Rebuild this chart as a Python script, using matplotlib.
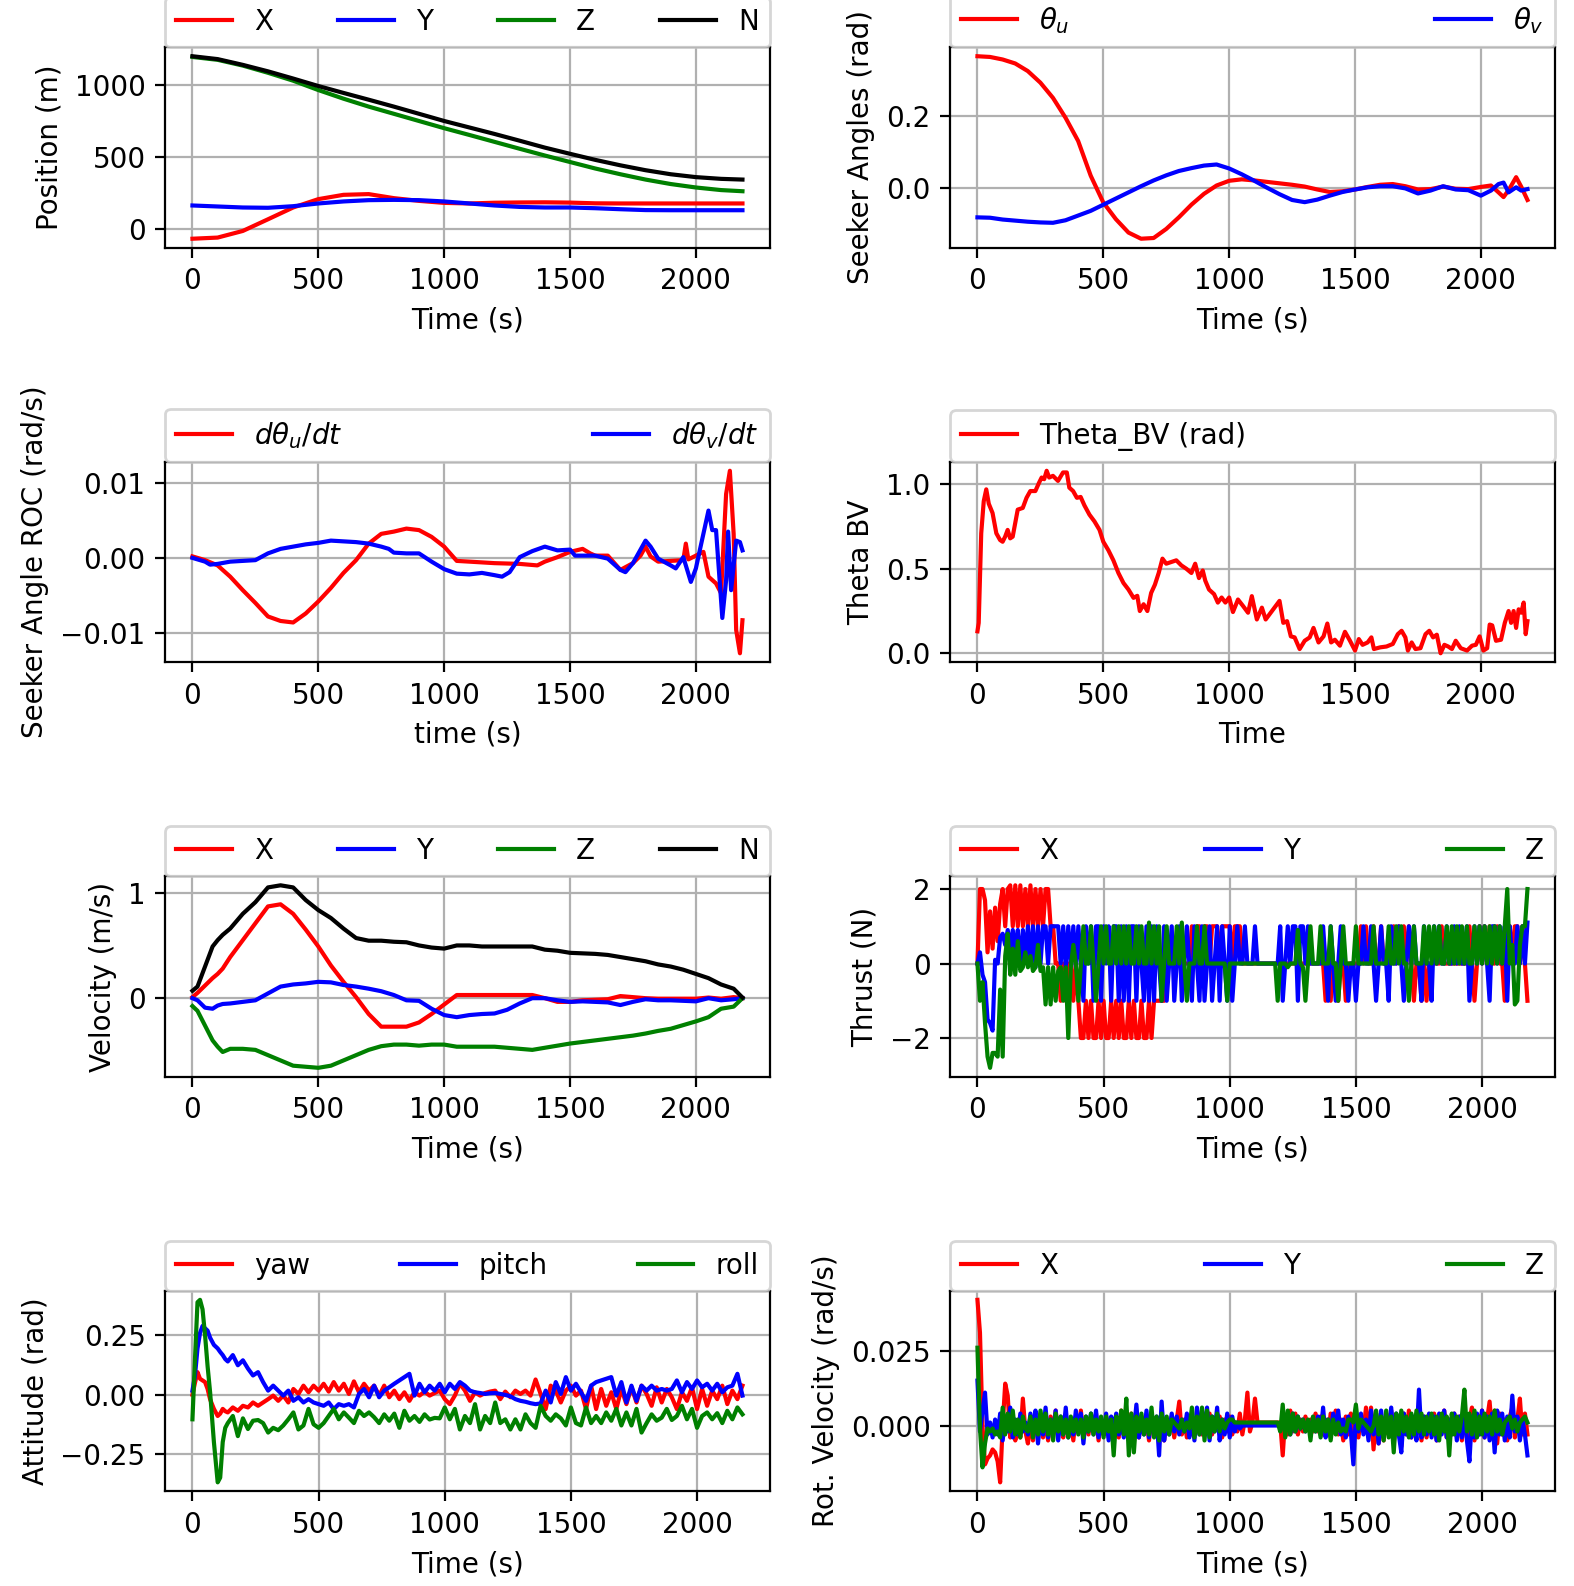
import numpy as np
import matplotlib.pyplot as plt

# ---- position (m) ----
t_pos = [0, 100, 200, 300, 400, 500, 600, 700, 800, 900, 1000, 1100, 1200,
         1300, 1400, 1500, 1600, 1700, 1800, 1900, 2000, 2100, 2185]
pos_x = [-68, -60, -14, 67, 149, 207, 237, 242, 214, 195, 181, 177, 182,
         184, 185, 183, 178, 177, 177, 177, 177, 177, 177]
pos_y = [163, 156, 149, 147, 158, 177, 191, 200, 202, 200, 191, 177, 163,
         153, 149, 149, 144, 137, 131, 130, 130, 130, 130]
pos_z = [1195, 1175, 1135, 1085, 1030, 965, 905, 850, 800, 750, 700, 653, 605,
         557, 510, 465, 420, 380, 343, 312, 288, 270, 262]
pos_n = [1200, 1180, 1140, 1095, 1045, 993, 945, 898, 850, 800, 750, 705, 660,
         613, 565, 522, 480, 442, 408, 380, 360, 348, 343]

# ---- seeker angles (rad) ----
t_seek = np.r_[np.arange(0, 2001, 50), [2040, 2070, 2090, 2110, 2140, 2160, 2185]]
theta_u = [0.365, 0.363, 0.356, 0.345, 0.324, 0.292, 0.25, 0.195, 0.131, 0.035,
           -0.039, -0.085, -0.122, -0.139, -0.137, -0.112, -0.08, -0.045, -0.015, 0.008,
           0.021, 0.025, 0.022, 0.018, 0.014, 0.01, 0.005, -0.003, -0.01, -0.008,
           -0.003, 0.004, 0.01, 0.012, 0.006, -0.003, -0.002, 0.005, -0.001, -0.002,
           0.004, 0.008, -0.011, -0.024, -0.005, 0.031, 0.005, -0.032]
theta_v = [-0.08, -0.081, -0.086, -0.089, -0.092, -0.094, -0.095, -0.088, -0.075, -0.062,
           -0.045, -0.028, -0.011, 0.006, 0.022, 0.036, 0.048, 0.056, 0.063, 0.066,
           0.055, 0.039, 0.021, 0.002, -0.016, -0.032, -0.038, -0.031, -0.02, -0.01,
           -0.003, 0.003, 0.006, 0.006, 0.0, -0.014, -0.006, 0.006, -0.003, -0.005,
           -0.02, -0.006, 0.012, 0.016, -0.011, 0.003, -0.006, -0.002]

# ---- seeker angle rate of change (1e-3 rad/s) ----
t_roc_u = [0, 50, 100, 150, 200, 250, 300, 350, 400, 450, 500, 550, 600, 650, 700,
           750, 800, 850, 900, 950, 1000, 1050, 1100, 1200, 1300, 1370, 1400, 1450,
           1500, 1550, 1580, 1600, 1650, 1700, 1750, 1780, 1800, 1820, 1850, 1900,
           1950, 1960, 1970, 2000, 2030, 2050, 2080, 2100, 2120, 2135, 2150, 2160,
           2175, 2185]
roc_u = [0.2, -0.3, -1.0, -2.5, -4.3, -6.0, -7.8, -8.4, -8.6, -7.4,
         -5.8, -4.0, -2.0, -0.3, 1.9, 3.2, 3.5, 3.9, 3.7, 2.8,
         1.5, -0.4, -0.5, -0.7, -0.8, -1.0, -0.5, 0.1, 0.8, 1.2,
         0.6, 0.3, 0.3, -1.6, -0.7, 0.3, 1.5, 0.2, -0.5, -0.4,
         -0.3, 1.9, -0.2, 0.3, 0.8, -2.5, -3.4, -4.7, 8.5, 11.6,
         3.2, -9.6, -12.7, -8.3]
t_roc_v = [0, 50, 70, 100, 150, 200, 250, 300, 350, 400, 450, 500, 550, 600, 650,
           700, 750, 780, 800, 850, 900, 950, 1000, 1050, 1100, 1150, 1200, 1230,
           1260, 1300, 1350, 1400, 1430, 1450, 1500, 1520, 1600, 1650, 1700, 1720,
           1750, 1800, 1820, 1850, 1900, 1920, 1950, 1980, 2000, 2020, 2050, 2065,
           2080, 2105, 2120, 2128, 2140, 2160, 2175, 2185]
roc_v = [0, -0.5, -0.9, -0.8, -0.5, -0.4, -0.3, 0.6, 1.2, 1.5,
         1.8, 2.0, 2.3, 2.2, 2.1, 1.9, 1.5, 1.2, 0.7, 0.6,
         0.6, -0.5, -1.5, -2.1, -2.2, -2.0, -2.3, -2.5, -1.9, 0.1,
         0.9, 1.5, 1.2, 1.0, 1.1, 0.3, 0.3, -0.1, -1.6, -1.9,
         -0.7, 2.3, 1.5, -0.1, -1.0, -1.4, 0.1, -3.2, -1.4, 1.7,
         6.3, 3.7, 3.7, -8.0, -3.0, 3.5, -4.3, 2.3, 2.1, 1.0]

# ---- theta BV (rad) ----
t_bv = [0, 5, 15, 25, 35, 45, 60, 75, 90, 100, 110, 120, 130, 140, 150, 160, 180,
        195, 210, 230, 245, 255, 265, 275, 285, 300, 320, 340, 355, 365, 380, 395,
        410, 425, 445, 465, 485, 500, 520, 540, 560, 580, 600, 620, 635, 645, 660,
        675, 690, 705, 720, 735, 750, 770, 790, 810, 830, 850, 865, 880, 895, 905,
        920, 940, 955, 970, 985, 1000, 1015, 1035, 1055, 1075, 1090, 1110, 1130,
        1145, 1200, 1215, 1230, 1245, 1260, 1280, 1300, 1320, 1335, 1355, 1375,
        1390, 1405, 1420, 1440, 1460, 1480, 1500, 1515, 1530, 1550, 1565, 1575,
        1600, 1625, 1650, 1670, 1685, 1700, 1710, 1725, 1740, 1760, 1780, 1795,
        1810, 1825, 1840, 1855, 1870, 1885, 1900, 1920, 1945, 1965, 1980, 1995,
        2010, 2025, 2035, 2045, 2060, 2080, 2095, 2110, 2120, 2130, 2140, 2150,
        2160, 2170, 2178, 2185]
theta_bv = [0.13, 0.18, 0.71, 0.90, 0.97, 0.885, 0.83, 0.71, 0.67, 0.66,
            0.69, 0.73, 0.68, 0.69, 0.77, 0.85, 0.86, 0.92, 0.96, 0.96,
            1.01, 1.04, 1.03, 1.08, 1.04, 1.05, 1.02, 1.07, 1.07, 0.98,
            0.96, 0.92, 0.925, 0.875, 0.82, 0.78, 0.73, 0.66, 0.61, 0.55,
            0.475, 0.416, 0.377, 0.328, 0.34, 0.25, 0.29, 0.25, 0.357, 0.406,
            0.475, 0.56, 0.53, 0.54, 0.55, 0.52, 0.50, 0.475, 0.53, 0.445,
            0.49, 0.43, 0.377, 0.35, 0.30, 0.33, 0.30, 0.33, 0.244, 0.318,
            0.28, 0.24, 0.338, 0.20, 0.27, 0.20, 0.31, 0.18, 0.19, 0.10,
            0.094, 0.025, 0.074, 0.094, 0.15, 0.064, 0.10, 0.176, 0.064, 0.08,
            0.045, 0.127, 0.074, 0.016, 0.084, 0.05, 0.064, 0.094, 0.025, 0.035,
            0.04, 0.055, 0.113, 0.133, 0.094, 0.016, 0.064, 0.025, 0.03, 0.113,
            0.133, 0.094, 0.11, 0.0, 0.05, 0.04, 0.025, 0.074, 0.03, 0.016,
            0.045, 0.05, 0.10, 0.016, 0.03, 0.17, 0.165, 0.074, 0.08, 0.18,
            0.25, 0.18, 0.25, 0.15, 0.26, 0.24, 0.30, 0.113, 0.19]

# ---- velocity (m/s) ----
t_vel = [0, 20, 50, 80, 100, 120, 150, 200, 250, 300, 350, 400, 450, 500, 550,
         600, 650, 700, 750, 800, 850, 900, 950, 1000, 1050, 1100, 1150, 1200,
         1250, 1300, 1350, 1400, 1450, 1500, 1550, 1600, 1650, 1700, 1750, 1800,
         1850, 1900, 1950, 2000, 2050, 2100, 2150, 2185]
vel_x = [0.01, 0.05, 0.12, 0.19, 0.23, 0.28, 0.39, 0.55, 0.71, 0.87, 0.89, 0.80,
         0.65, 0.49, 0.31, 0.155, 0.01, -0.15, -0.27, -0.27, -0.27, -0.23, -0.15,
         -0.06, 0.03, 0.03, 0.03, 0.03, 0.03, 0.03, 0.03, 0.0, -0.035, -0.035,
         -0.02, -0.015, -0.01, 0.02, 0.01, 0.0, -0.005, -0.005, -0.005, -0.005,
         0.006, -0.005, 0.01, 0.0]
vel_y = [0.0, -0.02, -0.09, -0.10, -0.07, -0.055, -0.05, -0.035, -0.02, 0.045,
         0.11, 0.13, 0.14, 0.155, 0.15, 0.125, 0.11, 0.09, 0.066, 0.03, -0.02,
         -0.025, -0.10, -0.16, -0.18, -0.16, -0.15, -0.145, -0.11, -0.05, 0.0,
         0.0, -0.02, -0.035, -0.03, -0.035, -0.04, -0.065, -0.035, -0.01, -0.02,
         -0.02, -0.025, -0.03, 0.0, -0.02, -0.01, 0.0]
vel_z = [-0.075, -0.12, -0.26, -0.40, -0.46, -0.51, -0.48, -0.48, -0.49, -0.54,
         -0.59, -0.64, -0.65, -0.66, -0.64, -0.59, -0.54, -0.49, -0.455, -0.44,
         -0.44, -0.45, -0.44, -0.44, -0.46, -0.46, -0.46, -0.46, -0.47, -0.48,
         -0.49, -0.47, -0.45, -0.43, -0.415, -0.40, -0.385, -0.37, -0.355, -0.335,
         -0.31, -0.29, -0.255, -0.22, -0.18, -0.10, -0.08, 0.0]
vel_n = [0.07, 0.11, 0.30, 0.49, 0.55, 0.60, 0.66, 0.80, 0.91, 1.05, 1.07, 1.05,
         0.93, 0.835, 0.76, 0.66, 0.57, 0.545, 0.545, 0.535, 0.53, 0.50, 0.48,
         0.47, 0.50, 0.50, 0.49, 0.49, 0.49, 0.49, 0.49, 0.46, 0.45, 0.43, 0.425,
         0.42, 0.41, 0.39, 0.37, 0.35, 0.32, 0.30, 0.27, 0.23, 0.19, 0.13, 0.09,
         0.006]

# ---- thrust (N), sampled every 10 s ----
t_thr = np.arange(0, 2181, 10)
thr_x = [0, 2, 2, 1.7, 0.3, 1.4, 0.4, 1.5, 0.6, 1.6,
         2, 1, 2, 2.1, 1, 2.1, 1, 2.1, 1, 2,
         1, 2.1, 1, 2, 1, 2, 1, 2, 2, 1,
         1, 0, 0, -1, 0, -1, 0, 0, -1, 0,
         -1, -2, -2, -1, -2, -1, -2, -2, -1, -2,
         -1, -2, -2, -1, -2, -1, -2, -1, -2, -2,
         -1, -2, -1, -2, -2, -1, -2, -2, -1, -2,
         -1, -1, -1, -1, -1, 0, 0, 0, 0, 0,
         0, 0, 0, 0, 0, 1, 0, 1, 1, 0,
         1, 1, 0, 1, 1, 1, 0, 1, 1, 1,
         1, 0, 1, 1, 1, 0, 0, 0, 0, 0,
         0, 0, 0, 0, 0, 0, 0, 0, 0, 0,
         0, 0, 0, 0, 0, 0, 0, 0, 0, 0,
         0, 0, 0, 0, 0, 0, 0, 0, -1, 0,
         -1, 0, 0, -1, 0, 0, -1, 0, 0, 0,
         0, 0, 1, 0, 1, 0, 0, 1, 0, 0,
         1, 0, 0, 0, 0, 1, 0, 1, 0, 1,
         0, 1, 0, -1, 0, 0, -1, 0, -1, 0,
         0, 0, 0, 0, 1, 0, 0, 0, 0, 0,
         0, 0, 0, 0, 0, 1, 0, -1, 0, 1,
         0, 1, 0, 1, 0, 0, 1, 0, 0, -1,
         0, 1, 0, 1, 1, 0, 1, 0, -1]
thr_y = [0, 0.3, -0.3, -0.5, -1.5, -1.6, -1.8, 0.1, 0, 0.7,
         0.8, 0.5, 0.9, 0.4, 0.9, 0.3, 0.9, -0.1, 0.9, 0.2,
         1, 0, 1, -0.1, 1, 0, 1, 1, 0, 1,
         1, 1, 1, 0, 1, -0.1, 1, 0, 1, -0.1,
         1, 0, -1, 1, 0, 1, -1, 1, 1, -1,
         1, 0, 1, -1, 1, 1, -1, 1, -1, 1,
         -1, 1, 1, -1, 1, 0, -1, 1, -1, 1,
         -1, 1, 0, -1, 1, -1, 0, 1, -1, 0,
         1, -1, 0, 1, 0, -1, 1, 0, -1, 1,
         -1, 0, 1, -1, 0, 1, -1, 1, 0, -1,
         1, -1, 0, 1, 0, 0, 1, 0, 0, 0,
         1, 0, 0, 0, 0, 0, 0, 0, 0, 0,
         1, -1, 0, 1, 0, 1, 1, -1, 1, 1,
         0, 1, 0, 0, 0, 0, 0, 1, 0, -1,
         1, 0, -1, 0, 1, 0, 0, -1, 0, 0,
         -1, 0, 0, 1, 0, 0, 1, 0, -1, 0,
         1, 0, 0, -1, 1, 0, 0, 1, 0, -1,
         0, 1, 0, 1, 0, 0, -1, 1, 0, 0,
         -1, 1, 0, 1, 0, 0, 1, 0, 0, 1,
         0, 1, 0, 0, 1, -1, 0, 1, 0, 1,
         0, 1, 0, -1, 1, 1, 0, 1, 0, 1,
         -1, 1, 0, 0, 1, 0, 1, 0, 1.1]
thr_z = [0, -1, -0.5, -1.6, -2.5, -2.8, -2.4, -2.4, -2.5, -0.7,
         -2.5, 0.2, 0.8, -0.3, 0.4, -0.3, 0.6, -0.2, -0.1, 0.3,
         -0.1, 0.2, -0.2, -0.1, 0.5, -0.2, -0.1, -1.1, -0.1, -1.1,
         -0.1, -1, -0.2, -0.1, -1, -0.1, -2, -0.1, 0.5, 0,
         -1, 0, 1, 0, 0, 1, 0, -1, 0, 1,
         0, 1, 0, 0, 1, 0, 1, 0, 1, 0,
         1, 0, 0, 1, 0, 1, 0, 0, 1.1, 0,
         1, 0, 1, -1, 0, 1, 0, 0, 0, 1,
         0, 1.1, 0, -1, 0, 0, 0, 1, 0, 0,
         1, 0, 0, 0, 0, 0, 0, 0, 0, -1,
         0, 0, 0, 0, 0, 0, 0, 0, 0, 0,
         0, 0, 0, 0, 0, 0, 0, 0, 0, -1,
         0, 0, 0, -0.1, 0, 0, 0, 0.9, 0, -0.1,
         -1, 0, 1, 0, 0, 0, 1, 0, 0, 0,
         1, 0, 0, -1, 0, 1, 0, 0, 0, 0,
         1, 0, 0, 0, 0, 0, 0, 1, 0, 0,
         0, 0, 0, 1, 0, 0, 1, 0, 1, 0,
         0, -1, 0, 1, 0, 0, 0, 1, 0, 1,
         0, 1, 0, 1, 0, 0, 1, 0, 1, 0,
         1, 0, 1, 0, 1, 0, 0, 1, 0, 1,
         0, 1, 0, 1, 0, 1, 0, 1, 0, 1,
         2, 0, 0.5, -1.1, -1, 0.5, 1, 1, 2]

# ---- attitude (rad) ----
t_att = np.r_[[0, 10, 20, 30, 40, 50, 60, 70, 85, 100, 110, 120, 130, 140],
              np.arange(160, 2181, 20)]
yaw = [0.0, 0.05, 0.095, 0.067, 0.06, 0.053, 0.024, -0.02, -0.06, -0.09, -0.08, -0.06, -0.07, -0.075,
       -0.054, -0.068, -0.047, -0.054, -0.033, -0.047, -0.033, -0.019, -0.004, -0.026,
       -0.004, -0.033, 0.024, 0.003, 0.038, 0.01, 0.038, 0.017, 0.046, 0.013,
       0.053, 0.017, 0.046, 0.003, 0.056, 0.01, 0.046, 0.017, 0.038, -0.004,
       0.038, -0.011, 0.017, -0.019, 0.01, -0.026, 0.01, -0.004, 0.013, -0.004,
       0.007, 0.017, -0.019, -0.04, -0.004, 0.046, 0.017, -0.026, 0.01, -0.004,
       0.007, 0.013, 0.017, -0.019, 0.013, -0.011, 0.017, 0.003, 0.017, -0.004,
       0.064, 0.003, -0.061, 0.038, 0.017, -0.033, 0.017, 0.038, -0.004, 0.017,
       -0.061, 0.038, -0.061, 0.024, -0.047, 0.01, -0.061, 0.024, -0.04, 0.031,
       -0.033, 0.038, 0.003, -0.047, 0.031, -0.033, 0.024, -0.011, -0.061, 0.01,
       -0.026, 0.031, -0.061, 0.024, -0.047, 0.017, -0.019, 0.038, -0.04, 0.017,
       -0.019, 0.038]
pitch = [0.017, 0.08, 0.195, 0.26, 0.29, 0.28, 0.27, 0.24, 0.21, 0.195, 0.18, 0.167, 0.15, 0.14,
         0.167, 0.124, 0.145, 0.11, 0.081, 0.095, 0.053, 0.017, 0.038, 0.017,
         -0.004, 0.017, -0.026, -0.011, -0.033, -0.019, -0.033, -0.04, -0.047, -0.033,
         -0.061, -0.04, -0.047, -0.04, -0.054, 0.003, 0.024, -0.011, 0.038, -0.011,
         0.017, 0.031, 0.046, 0.06, 0.074, 0.088, -0.004, 0.046, 0.01, 0.038,
         0.017, 0.046, 0.01, 0.046, 0.024, 0.053, 0.038, 0.017, 0.01, 0.007,
         0.003, 0.006, 0.007, 0.003, -0.001, -0.007, -0.019, -0.026, -0.03, -0.036,
         -0.04, -0.037, 0.017, -0.033, 0.053, 0.003, 0.074, 0.017, 0.046, 0.01,
         -0.026, 0.038, 0.053, 0.06, 0.067, 0.074, -0.004, 0.053, -0.033, 0.038,
         -0.026, 0.038, 0.017, 0.038, 0.017, 0.024, 0.017, 0.024, 0.06, 0.01,
         0.053, 0.024, 0.06, 0.031, 0.046, 0.017, 0.046, 0.01, 0.031, 0.038,
         0.088, -0.004]
roll = [-0.104, 0.15, 0.39, 0.40, 0.36, 0.25, 0.12, 0.01, -0.2, -0.37, -0.35, -0.2, -0.14, -0.12,
        -0.09, -0.175, -0.10, -0.145, -0.11, -0.107, -0.12, -0.16, -0.14, -0.15,
        -0.13, -0.104, -0.075, -0.147, -0.13, -0.06, -0.125, -0.14, -0.12, -0.09,
        -0.06, -0.104, -0.075, -0.097, -0.12, -0.068, -0.09, -0.075, -0.095, -0.12,
        -0.083, -0.11, -0.08, -0.14, -0.068, -0.11, -0.09, -0.115, -0.083, -0.105,
        -0.098, -0.1, -0.054, -0.104, -0.06, -0.147, -0.09, -0.12, -0.04, -0.147,
        -0.09, -0.12, -0.033, -0.12, -0.104, -0.147, -0.104, -0.147, -0.083, -0.12,
        -0.14, -0.047, -0.09, -0.11, -0.083, -0.1, -0.13, -0.054, -0.12, -0.13,
        -0.054, -0.12, -0.09, -0.12, -0.075, -0.11, -0.06, -0.13, -0.075, -0.13,
        -0.06, -0.16, -0.12, -0.083, -0.11, -0.097, -0.06, -0.107, -0.09, -0.047,
        -0.104, -0.06, -0.14, -0.09, -0.075, -0.104, -0.078, -0.12, -0.068, -0.104,
        -0.054, -0.083]

# ---- rotational velocity (mrad/s), sampled every 10 s ----
t_rot = np.arange(0, 2181, 10)
rot_x = [42, 31, 0, -13, -11, -10, -8, -9, -12, -19,
         0, 14, 10, -4, 3, -5, 0, -4, 9, -2,
         -6, 2, -5, 1, -3, 4, -4, 2, -5, 3,
         -3, 5, -2, 1, -4, 4, -3, 2, -5, 3,
         -2, 5, -4, 1, -3, 3, -2, 4, -5, 2,
         -3, 3, -4, 2, -1, 3, -4, 5, -3, 2,
         -2, 4, -3, 1, -4, 3, -2, 2, -5, 4,
         -3, 2, -4, 3, -5, 1, -2, 3, -4, 2,
         8, -3, 2, -4, 1, -3, 2, -2, 3, -3,
         1, -2, 4, -3, 2, -1, 3, -4, 2, -2,
         3, -3, 1, -2, 4, -3, 2, 11, -2, 1,
         9, 1, 1, 1, 1, 1, 1, 1, 1, 1,
         1, -10, 3, -3, 5, -2, 4, -3, 2, -2,
         3, -1, 2, -2, 4, -2, 3, -3, 2, -3,
         4, -2, 5, -3, 2, -5, 3, -3, 4, -7,
         2, -4, 3, -2, 6, -3, 6, -8, 4, -6,
         3, -5, 4, -3, 5, -6, 3, -2, -7, 4,
         -3, 5, -4, 2, -3, 4, -5, 3, -4, 2,
         -3, 4, -5, 3, -2, 5, -4, 2, -3, 4,
         -2, 3, -5, 6, -4, 2, 6, -5, 3, -3,
         5, -4, 2, 8, -3, 5, -6, 4, -3, 2,
         -5, 3, 6, -4, 2, 9, -3, 4, -3]
rot_y = [15, -2, 5, 11, -3, 1, -4, 2, -3, 4,
         -5, 3, -2, 6, -4, 2, -3, 4, -2, 1,
         -3, 4, -2, 5, -6, 3, -3, 6, -4, 2,
         -2, 5, -5, 3, -3, 6, -4, 2, -3, 5,
         -2, 4, -6, 3, -2, 4, -3, 5, -4, 2,
         -3, 4, -5, 3, -2, 4, -3, 2, -4, 5,
         -5, 3, -2, 7, -4, 2, -3, 5, -4, 2,
         -2, 3, -10, 8, -5, 2, -3, 4, -2, 3,
         -3, 2, -2, 4, -4, 3, -5, 6, -3, 5,
         -2, 6, -5, 3, -2, 6, -5, 2, -3, 4,
         -4, 3, -2, 1, -1, 0, 0, 0, 0, 0,
         0, 0, 0, 0, 0, 0, 0, 0, 0, 0,
         0, 1, -2, 2, -3, 4, -2, 3, -1, 2,
         -2, 1, -1, 2, -2, 3, -3, 6, -4, 2,
         -3, 4, -2, 5, -3, 2, -4, 3, -2, -13,
         3, -2, 4, -3, 2, -5, 5, -3, 4, -6,
         5, -4, 3, -2, 6, -5, 4, -3, -9, 4,
         -3, 2, -4, 3, -5, 12, -4, 3, -3, 4,
         -4, 3, -5, 4, -3, 5, -4, 2, -3, 4,
         -5, 3, -4, 5, -5, -12, 3, -4, 4, -3,
         5, -4, 3, -5, 4, -9, 5, -3, 4, -5,
         3, -4, 10, -2, 3, -5, 2, -3, -10]
rot_z = [26, -1, -14, -6, -1, -2, -1, -3, -2, -4,
         6, -3, 4, -2, 5, -3, 2, -4, 3, -1,
         -2, 3, -4, 2, -3, 5, -2, 4, -3, 2,
         -5, 4, -2, 3, -3, 2, -4, 3, -2, 2,
         -3, 2, -4, 3, -2, 4, -3, 2, -2, 3,
         -4, 3, -2, 2, -10, 3, -2, 5, -3, 9,
         -10, 4, -9, 3, -2, 4, -3, 2, -3, 6,
         -4, 3, -5, 4, -2, 3, -3, 2, 1, 0,
         -1, 2, -2, 1, -1, 6, -4, 3, -3, 6,
         -5, 5, -4, 3, -2, 4, -2, 2, -1, 1,
         2, 2, 1, 1, 1, 1, 1, 1, 1, 1,
         1, 1, 1, 1, 1, 1, 1, 1, 1, 1,
         -2, 7, -4, 5, -3, 4, -2, 3, -1, 2,
         -2, 2, -5, 3, -2, 2, -4, 3, -2, 2,
         -5, 2, -3, 1, -2, -1, -2, 2, 2, 1,
         7, -1, 2, 1, 0, -1, -2, 0, 5, -3,
         3, -5, 5, -4, 3, -9, 4, -3, 5, -2,
         3, -4, 4, -3, 5, -2, 4, -3, 3, -2,
         4, -3, 3, -5, 4, -2, 3, -10, 4, -3,
         3, -2, 3, 12, -2, 4, -3, 5, -4, 3,
         -3, 4, -2, 3, -3, 5, -2, 2, -3, 1,
         2, 3, -1, 2, -2, 1, 2, 3, 1]


def top_legend(ax, ncol):
    ax.legend(bbox_to_anchor=(0., 1.0, 1., 0.1), loc='lower left', ncol=ncol,
              mode='expand', borderaxespad=0.)


fig, axs = plt.subplots(4, 2, figsize=(7.87, 7.93), dpi=200)
fig.subplots_adjust(left=0.1048, right=0.9879, top=0.9703, bottom=0.0596,
                    wspace=0.2975, hspace=1.065)

ax = axs[0, 0]
ax.plot(t_pos, pos_x, 'r', label='X')
ax.plot(t_pos, pos_y, 'b', label='Y')
ax.plot(t_pos, pos_z, 'g', label='Z')
ax.plot(t_pos, pos_n, 'k', label='N')
ax.set_xlabel('Time (s)')
ax.set_ylabel('Position (m)')
ax.grid(True)
top_legend(ax, 4)

ax = axs[0, 1]
ax.plot(t_seek, theta_u, 'r', label=r'$\theta_u$')
ax.plot(t_seek, theta_v, 'b', label=r'$\theta_v$')
ax.set_xlabel('Time (s)')
ax.set_ylabel('Seeker Angles (rad)')
ax.grid(True)
top_legend(ax, 2)

ax = axs[1, 0]
ax.plot(t_roc_u, np.array(roc_u) * 1e-3, 'r', label=r'$d\theta_u/dt$')
ax.plot(t_roc_v, np.array(roc_v) * 1e-3, 'b', label=r'$d\theta_v/dt$')
ax.set_xlabel('time (s)')
ax.set_ylabel('Seeker Angle ROC (rad/s)')
ax.grid(True)
top_legend(ax, 2)

ax = axs[1, 1]
ax.plot(t_bv, theta_bv, 'r', label='Theta_BV (rad)')
ax.set_xlabel('Time')
ax.set_ylabel('Theta BV')
ax.grid(True)
top_legend(ax, 1)

ax = axs[2, 0]
ax.plot(t_vel, vel_x, 'r', label='X')
ax.plot(t_vel, vel_y, 'b', label='Y')
ax.plot(t_vel, vel_z, 'g', label='Z')
ax.plot(t_vel, vel_n, 'k', label='N')
ax.set_xlabel('Time (s)')
ax.set_ylabel('Velocity (m/s)')
ax.grid(True)
top_legend(ax, 4)

ax = axs[2, 1]
ax.plot(t_thr, thr_x, 'r', label='X')
ax.plot(t_thr, thr_y, 'b', label='Y')
ax.plot(t_thr, thr_z, 'g', label='Z')
ax.set_xlabel('Time (s)')
ax.set_ylabel('Thrust (N)')
ax.grid(True)
top_legend(ax, 3)

ax = axs[3, 0]
ax.plot(t_att, yaw, 'r', label='yaw')
ax.plot(t_att, pitch, 'b', label='pitch')
ax.plot(t_att, roll, 'g', label='roll')
ax.set_xlabel('Time (s)')
ax.set_ylabel('Attitude (rad)')
ax.grid(True)
top_legend(ax, 3)

ax = axs[3, 1]
ax.plot(t_rot, np.array(rot_x) * 1e-3, 'r', label='X')
ax.plot(t_rot, np.array(rot_y) * 1e-3, 'b', label='Y')
ax.plot(t_rot, np.array(rot_z) * 1e-3, 'g', label='Z')
ax.set_xlabel('Time (s)')
ax.set_ylabel('Rot. Velocity (rad/s)')
ax.grid(True)
top_legend(ax, 3)

fig.savefig('out.png', dpi=200)
